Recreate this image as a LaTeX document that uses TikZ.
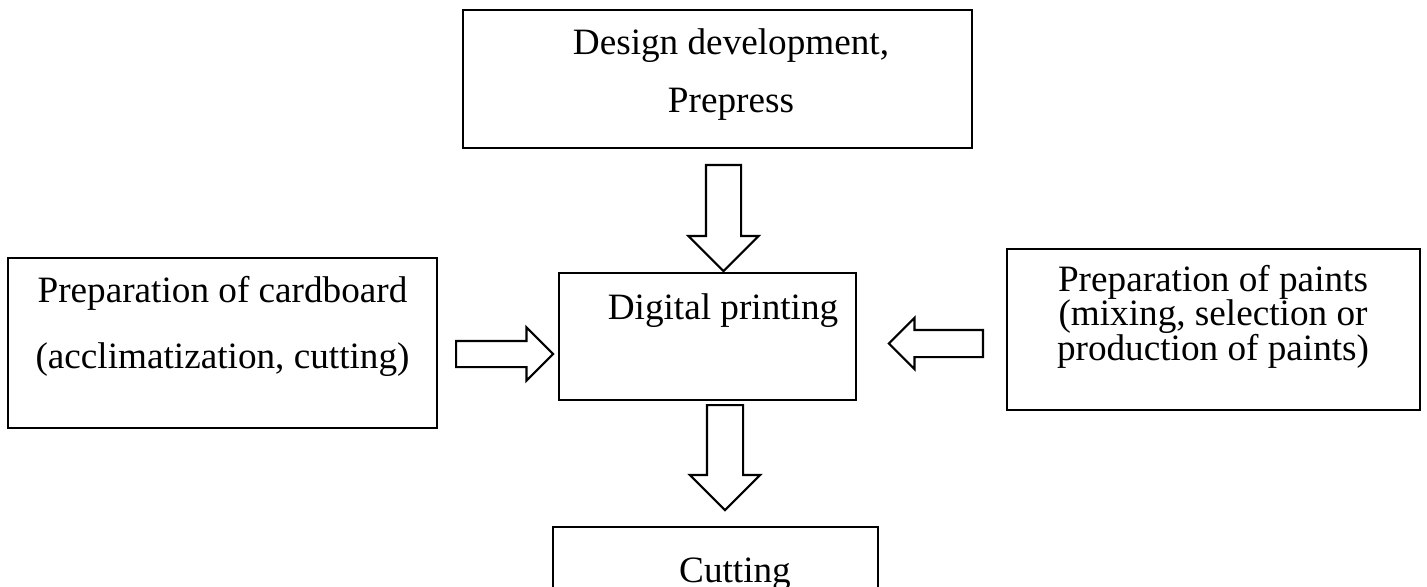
\documentclass[tikz,border=0pt]{standalone}
\usepackage{fontspec}
\setmainfont{Liberation Serif}
\usetikzlibrary{positioning,shapes.arrows}

\begin{document}
\begin{tikzpicture}[x=0.5pt, y=-0.5pt,
  box/.style={draw, line width=1.3pt, inner sep=0pt},
  boxtext/.style={anchor=base, inner sep=0pt, font=\fontsize{18.6}{20}\selectfont},
  blockarrow/.style={draw, fill=white, single arrow, line width=1.1pt, anchor=tail,
    inner xsep=0pt, text height=0pt, text depth=0pt, minimum width=0pt,
    single arrow tip angle=90}]
\clip (0,0) rectangle (1427,587);
% boxes
\node [box, minimum width=254.5pt, minimum height=69pt] (design) at (717.5,79) {};
\node [box, minimum width=148.5pt, minimum height=63.5pt] (printing) at (707.5,336.5) {};
\node [box, minimum width=214.5pt, minimum height=85pt] (cardboard) at (222.5,343) {};
\node [box, minimum width=206.5pt, minimum height=80.5pt] (paints) at (1213.5,329.5) {};
\node [box, minimum width=162.5pt, minimum height=60pt] (cutting) at (715.5,587) {};
% texts
\foreach \t [count=\i] in {{Design development,},Prepress}
  \node [boxtext] (design-\i) at (731,55+58*\i-58) {\t};
\node [boxtext] (printing-1) at (723,320) {Digital printing};
\foreach \t [count=\i] in {Preparation of cardboard,{(acclimatization, cutting)}}
  \node [boxtext] (cardboard-\i) at (222.5,303+65*\i-65) {\t};
\foreach \t [count=\i] in {Preparation of paints,{(mixing, selection or},{production of paints)}}
  \node [boxtext] (paints-\i) at (1213,292+34*\i-34) {\t};
\node [boxtext] (cutting-1) at (735,582) {Cutting};
% block arrows
\node [blockarrow, rotate=-90, minimum height=53pt, inner ysep=8.25pt,
  single arrow head extend=8.75pt] (arr-design) at (723.5,164) {};
\node [blockarrow, rotate=-90, minimum height=52.5pt, inner ysep=8.5pt,
  single arrow head extend=8.5pt] (arr-cutting) at (725,404) {};
\node [blockarrow, minimum height=48.5pt, inner ysep=6pt,
  single arrow head extend=6.75pt] (arr-cardboard) at (455,354) {};
\node [blockarrow, rotate=180, minimum height=47pt, inner ysep=6.25pt,
  single arrow head extend=6pt] (arr-paints) at (984,343.5) {};
\end{tikzpicture}
\end{document}
